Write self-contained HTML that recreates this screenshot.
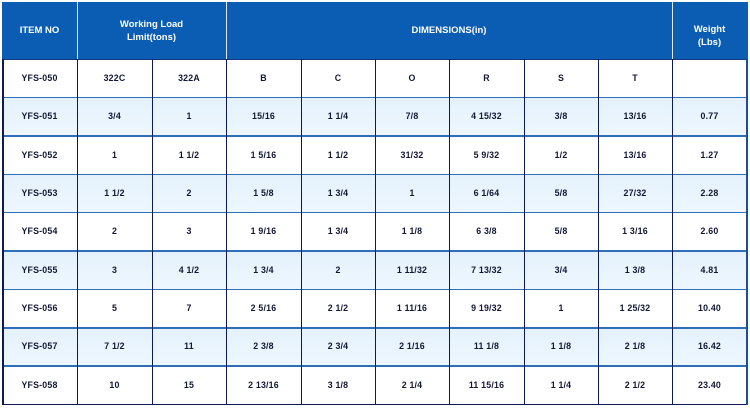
<!DOCTYPE html>
<html><head><meta charset="utf-8">
<style>
html,body{margin:0;padding:0;background:#fff;}
body{width:750px;height:409px;position:relative;overflow:hidden;font-family:"Liberation Sans",Arial,sans-serif;}
.hdr{position:absolute;left:2px;top:2px;width:746px;height:57px;background:#0b5db3;}
.hs{position:absolute;top:2px;height:57px;width:1.5px;background:#dfe8f3;}
.ht{position:absolute;color:#fff;font-weight:bold;font-size:9.5px;text-align:center;line-height:13px;}
table{position:absolute;left:2px;top:59px;width:745px;border-collapse:collapse;table-layout:fixed;}
td{padding:0;height:38.33px;text-align:center;vertical-align:middle;font-size:8.8px;font-weight:bold;color:#121735;white-space:pre;letter-spacing:0.2px;}
tr.l td{background:linear-gradient(#e4f1fc,#eef7fe);}
.hl{position:absolute;left:2px;width:745px;height:1.5px;background:#2d6fb6;}
.vl{position:absolute;top:59px;height:346px;width:1.5px;background:#0c1a55;}
</style></head><body>
<div class="hdr"></div>
<div class="hs" style="left:76.5px"></div>
<div class="hs" style="left:225.5px"></div>
<div class="hs" style="left:671.5px"></div>
<div class="ht" style="left:2px;width:75px;top:24px;">ITEM NO</div>
<div class="ht" style="left:77px;width:149px;top:18px;">Working Load<br>Limit(tons)</div>
<div class="ht" style="left:226px;width:446px;top:24px;">DIMENSIONS(in)</div>
<div class="ht" style="left:672px;width:75px;top:23px;">Weight<br>(Lbs)</div>
<table>
<colgroup><col style="width:75px"><col style="width:75px"><col style="width:74px"><col style="width:75px"><col style="width:74px"><col style="width:74px"><col style="width:75px"><col style="width:74px"><col style="width:74px"><col style="width:75px"></colgroup>
<tr><td>YFS-050</td><td>322C</td><td>322A</td><td>B</td><td>C</td><td>O</td><td>R</td><td>S</td><td>T</td><td></td></tr>
<tr class="l"><td>YFS-051</td><td>3/4</td><td>1</td><td>15/16</td><td>1 1/4</td><td>7/8</td><td>4 15/32</td><td>3/8</td><td>13/16</td><td>0.77</td></tr>
<tr><td>YFS-052</td><td>1</td><td>1 1/2</td><td>1 5/16</td><td>1 1/2</td><td>31/32</td><td>5 9/32</td><td>1/2</td><td>13/16</td><td>1.27</td></tr>
<tr class="l"><td>YFS-053</td><td>1 1/2</td><td>2</td><td>1 5/8</td><td>1 3/4</td><td>1</td><td>6 1/64</td><td>5/8</td><td>27/32</td><td>2.28</td></tr>
<tr><td>YFS-054</td><td>2</td><td>3</td><td>1 9/16</td><td>1 3/4</td><td>1 1/8</td><td>6 3/8</td><td>5/8</td><td>1 3/16</td><td>2.60</td></tr>
<tr class="l"><td>YFS-055</td><td>3</td><td>4 1/2</td><td>1 3/4</td><td>2</td><td>1 11/32</td><td>7 13/32</td><td>3/4</td><td>1 3/8</td><td>4.81</td></tr>
<tr><td>YFS-056</td><td>5</td><td>7</td><td>2 5/16</td><td>2 1/2</td><td>1 11/16</td><td>9 19/32</td><td>1</td><td>1 25/32</td><td>10.40</td></tr>
<tr class="l"><td>YFS-057</td><td>7 1/2</td><td>11</td><td>2 3/8</td><td>2 3/4</td><td>2 1/16</td><td>11 1/8</td><td>1 1/8</td><td>2 1/8</td><td>16.42</td></tr>
<tr><td>YFS-058</td><td>10</td><td>15</td><td>2 13/16</td><td>3 1/8</td><td>2 1/4</td><td>11 15/16</td><td>1 1/4</td><td>2 1/2</td><td>23.40</td></tr>
</table>
<div class="hl" style="top:58.5px;background:#123a7a"></div>
<div class="hl" style="top:96.8px"></div>
<div class="hl" style="top:135.2px"></div>
<div class="hl" style="top:173.5px"></div>
<div class="hl" style="top:211.8px"></div>
<div class="hl" style="top:250.2px;height:2px"></div>
<div class="hl" style="top:288.5px"></div>
<div class="hl" style="top:326.8px;height:2px"></div>
<div class="hl" style="top:365.2px"></div>
<div class="hl" style="top:403.5px;background:#0c1a55"></div>
<div class="vl" style="left:2px"></div>
<div class="vl" style="left:76.5px"></div>
<div class="vl" style="left:151.5px"></div>
<div class="vl" style="left:225.5px"></div>
<div class="vl" style="left:300.5px"></div>
<div class="vl" style="left:374.5px"></div>
<div class="vl" style="left:448.5px"></div>
<div class="vl" style="left:523.5px"></div>
<div class="vl" style="left:597.5px"></div>
<div class="vl" style="left:671.5px"></div>
<div class="vl" style="left:746px;background:#1d4f95"></div>
</body></html>
